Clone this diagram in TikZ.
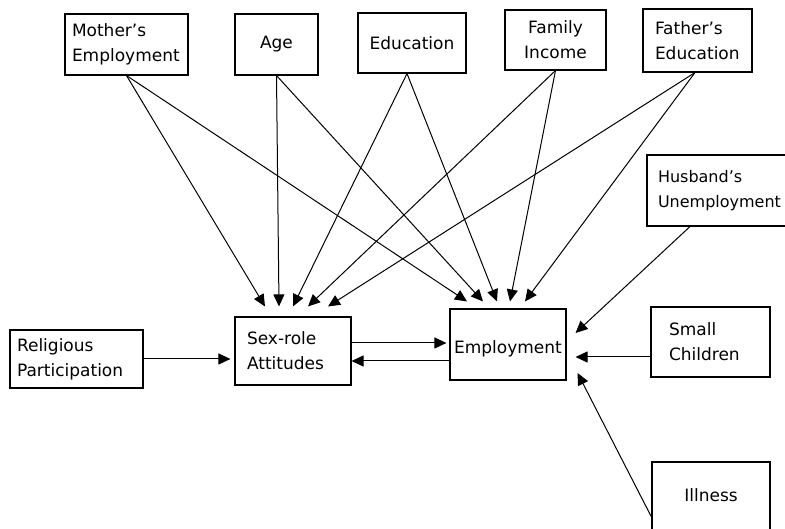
\documentclass[tikz,border=0pt]{standalone}
\usepackage{fontspec}
\setmainfont{DejaVu Sans}
\usetikzlibrary{arrows.meta}
\begin{document}
\begin{tikzpicture}[x=1pt,y=-1pt,
  box/.style={draw, line width=1.1pt, inner ysep=0pt, font=\fontsize{17}{25}\selectfont},
  lbox/.style={box, align=left},
  arr/.style={line width=1pt, -{Triangle[length=12pt,width=11pt]}}]
\useasboundingbox (0,0) rectangle (785,529);
\clip (0,0) rectangle (785,529);

\node[lbox, inner xsep=7pt, text width=109pt, minimum height=61pt] (moth) at (126.5,44.5) {Mother's\\Employment};
\node[box, minimum width=83pt, minimum height=61pt] (age) at (276.5,44.5) {Age};
\node[box, minimum width=108pt, minimum height=60pt] (edu) at (412,43) {Education};
\node[box, align=center, minimum width=101pt, minimum height=60pt] (inc) at (555.5,40) {Family\\Income};
\node[lbox, inner xsep=12pt, text width=85pt, minimum height=63pt] (fedu) at (697.5,40.5) {Father's\\Education};
\node[lbox, inner xsep=11pt, text width=131pt, minimum height=71pt, font=\fontsize{16}{25}\selectfont] (husb) at (723.5,190.5) {Husband's\\Unemployment};
\node[lbox, inner xsep=7pt, text width=119pt, minimum height=58pt] (relig) at (76.5,359) {Religious\\Participation};
\node[lbox, inner xsep=12pt, text width=92pt, minimum height=68pt] (sex) at (293,351) {Sex-role\\Attitudes};
\node[box, minimum width=116pt, minimum height=71pt] (emp) at (508,344.5) {\raisebox{-4pt}[\height][\depth]{Employment}};
\node[lbox, inner xsep=18pt, text width=83pt, minimum height=70pt] (small) at (710.5,342) {Small\\Children};
\node[box, minimum width=118pt, minimum height=83pt] (ill) at (711,503.5) {\raisebox{8pt}[\height][\depth]{Illness}};

% top sources
\draw[arr] (moth.south) -- ([xshift=-28pt,yshift=10pt]sex.north);
\draw[arr] (moth.south) -- ([xshift=-41pt,yshift=7pt]emp.north);
\draw[arr] (age.south) -- ([xshift=-14pt,yshift=10pt]sex.north);
\draw[arr] (age.south) -- ([xshift=-25pt,yshift=7pt]emp.north);
\draw[arr] ([xshift=-5pt]edu.south) -- ([yshift=10pt]sex.north);
\draw[arr] ([xshift=-5pt]edu.south) -- ([xshift=-11pt,yshift=7pt]emp.north);
\draw[arr] (inc.south) -- ([xshift=15pt,yshift=10pt]sex.north);
\draw[arr] (inc.south) -- ([xshift=2pt,yshift=7pt]emp.north);
\draw[arr] ([xshift=-2.5pt]fedu.south) -- ([xshift=35pt,yshift=10pt]sex.north);
\draw[arr] ([xshift=-2.5pt]fedu.south) -- ([xshift=17pt,yshift=7pt]emp.north);

% horizontal
\draw[arr, shorten >=4pt] (relig.east) -- (relig.east -| sex.west);
\coordinate (s1) at ([yshift=8pt]sex.east);
\coordinate (s2) at ([yshift=-10pt]sex.east);
\draw[arr, shorten >=3pt] (s1) -- (s1 -| emp.west);
\draw[arr] (s2 -| emp.west) -- (s2);

% right side
\draw[arr] ([xshift=-33.5pt]husb.south) -- ([xshift=9pt,yshift=11.5pt]emp.east);
\draw[arr] ([yshift=-15pt]small.west) -- ([xshift=9pt,yshift=-12.5pt]emp.east);
\draw[arr] ([yshift=-13.5pt]ill.west) -- ([xshift=11pt,yshift=-28.5pt]emp.east);
\end{tikzpicture}
\end{document}
